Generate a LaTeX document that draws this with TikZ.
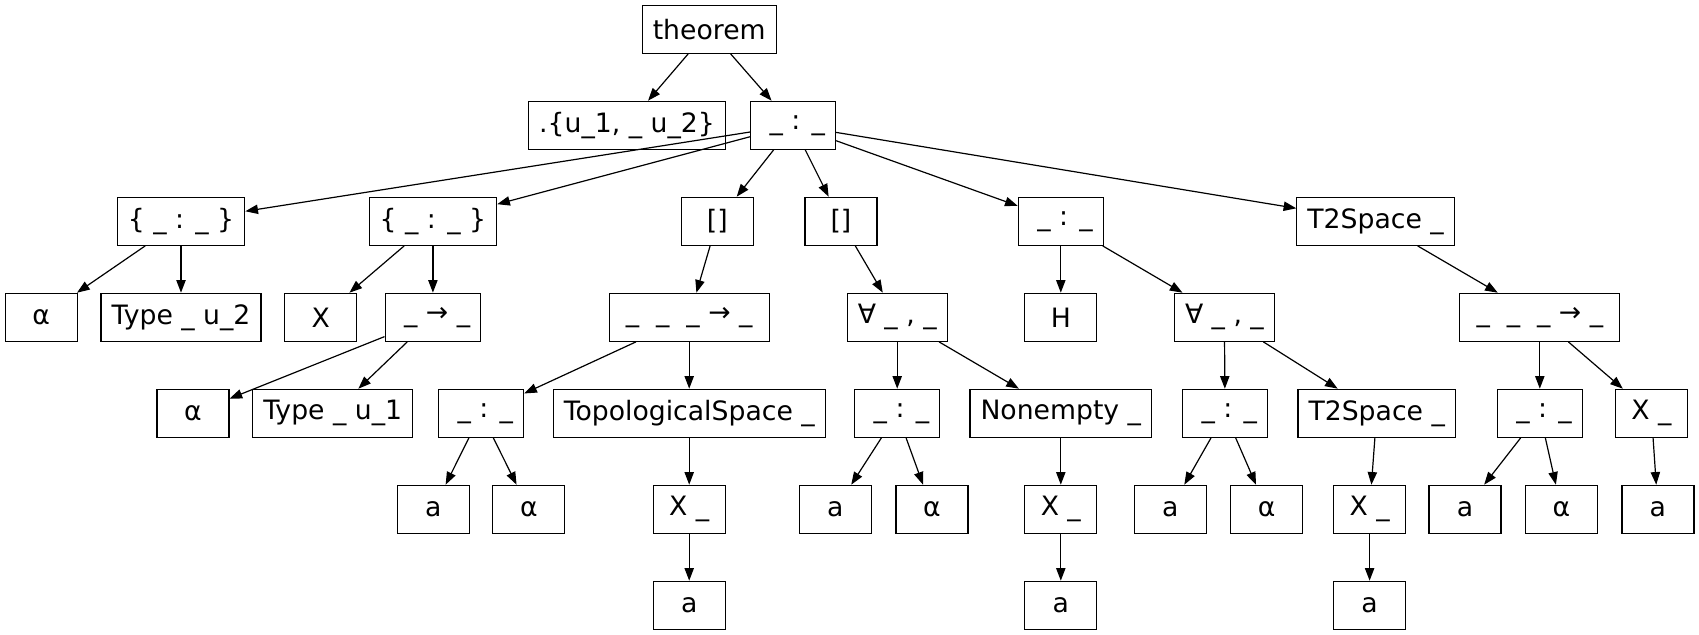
\documentclass[tikz,border=0pt]{standalone}
\usepackage{fontspec}
\setmainfont{DejaVu Sans}
\usepackage{tikz}
\usetikzlibrary{arrows.meta}

\begin{document}
\begin{tikzpicture}[x=0.75pt,y=-0.75pt,
box/.style={draw,line width=0.9pt,font=\fontsize{20}{24}\selectfont,minimum width=54pt,minimum height=36pt,inner xsep=7.92pt,inner ysep=2pt},
arr/.style={-{Triangle[length=9.5pt,width=7pt]},line width=0.9pt}]
\useasboundingbox (0,0) rectangle (1699,635);
\node[box] (thm) at (709.2,29.3) {theorem};
\node[box] (univs) at (627,125.3) {.\{u\_1, \_ u\_2\}};
\node[box] (typing) at (793,125.3) {\ \_ : \_\ };
\node[box] (instA) at (181,221.3) {\{ \_ : \_ \}};
\node[box] (instB) at (432.9,221.3) {\{ \_ : \_ \}};
\node[box] (listA) at (717.3,221.3) {[]};
\node[box] (listB) at (840.9,221.3) {[]};
\node[box] (typH) at (1060.8,221.3) {\ \_ : \_\ };
\node[box] (tTwoA) at (1375.6,221.3) {T2Space \_\ };
\node[box] (alphaA) at (41.2,317.3) {α};
\node[box] (typeU2) at (181,317.3) {Type \_ u\_2};
\node[box] (varX) at (320.7,317.3) {X};
\node[box] (funA) at (432.9,317.3) {\ \_ → \_\ };
\node[box,minimum width=120pt] (funB) at (689.2,317.3) {\_ \ \_ \ \_ → \_};
\node[box] (allA) at (897.2,317.3) {∀ \_ , \_\ };
\node[box] (hyp) at (1060.8,317.3) {H};
\node[box] (allB) at (1224.4,317.3) {∀ \_ , \_\ };
\node[box,minimum width=120pt] (funC) at (1539.8,317.3) {\_ \ \_ \ \_ → \_};
\node[box] (alphaB) at (192.9,413.3) {α};
\node[box] (typeU1) at (332.7,413.3) {Type \_ u\_1};
\node[box] (typA) at (481.1,413.3) {\ \_ : \_\ };
\node[box] (topo) at (689.2,413.3) {TopologicalSpace \_};
\node[box] (typB) at (897.2,413.3) {\ \_ : \_\ };
\node[box] (nonempty) at (1060.8,413.3) {Nonempty \_\ };
\node[box] (typC) at (1225,413.3) {\ \_ : \_\ };
\node[box] (tTwoB) at (1376.7,413.3) {T2Space \_\ };
\node[box] (typD) at (1539.8,413.3) {\ \_ : \_\ };
\node[box] (appX) at (1651.4,413.3) {X \_};
\node[box] (aA) at (433.4,509.3) {a};
\node[box] (alphaC) at (528.8,509.3) {α};
\node[box] (appXA) at (689.2,509.3) {X \_};
\node[box] (aB) at (835.4,509.3) {a};
\node[box] (alphaD) at (931.9,509.3) {α};
\node[box] (appXB) at (1060.8,509.3) {X \_};
\node[box] (aC) at (1170.3,509.3) {a};
\node[box] (alphaE) at (1266.7,509.3) {α};
\node[box] (appXC) at (1369.6,509.3) {X \_};
\node[box] (aD) at (1465,509.3) {a};
\node[box] (alphaF) at (1561.4,509.3) {α};
\node[box] (aE) at (1657.9,509.3) {a};
\node[box] (aF) at (689.2,605.3) {a};
\node[box] (aG) at (1060.8,605.3) {a};
\node[box] (aH) at (1369.6,605.3) {a};
\draw[arr] (thm)--(univs);\draw[arr] (thm)--(typing);
\draw[arr] (typing)--(instA);\draw[arr] (typing)--(instB);\draw[arr] (typing)--(listA);
\draw[arr] (typing)--(listB);\draw[arr] (typing)--(typH);\draw[arr] (typing)--(tTwoA);
\draw[arr] (instA)--(alphaA);\draw[arr] (instA)--(typeU2);
\draw[arr] (instB)--(varX);\draw[arr] (instB)--(funA);
\draw[arr] (funA)--(alphaB);\draw[arr] (funA)--(typeU1);
\draw[arr] (listA)--(funB);\draw[arr] (funB)--(typA);\draw[arr] (funB)--(topo);
\draw[arr] (typA)--(aA);\draw[arr] (typA)--(alphaC);
\draw[arr] (topo)--(appXA);\draw[arr] (appXA)--(aF);
\draw[arr] (listB)--(allA);\draw[arr] (allA)--(typB);\draw[arr] (allA)--(nonempty);
\draw[arr] (typB)--(aB);\draw[arr] (typB)--(alphaD);
\draw[arr] (nonempty)--(appXB);\draw[arr] (appXB)--(aG);
\draw[arr] (typH)--(hyp);\draw[arr] (typH)--(allB);
\draw[arr] (allB)--(typC);\draw[arr] (allB)--(tTwoB);
\draw[arr] (typC)--(aC);\draw[arr] (typC)--(alphaE);
\draw[arr] (tTwoB)--(appXC);\draw[arr] (appXC)--(aH);
\draw[arr] (tTwoA)--(funC);\draw[arr] (funC)--(typD);\draw[arr] (funC)--(appX);
\draw[arr] (typD)--(aD);\draw[arr] (typD)--(alphaF);
\draw[arr] (appX)--(aE);
\end{tikzpicture}
\end{document}
